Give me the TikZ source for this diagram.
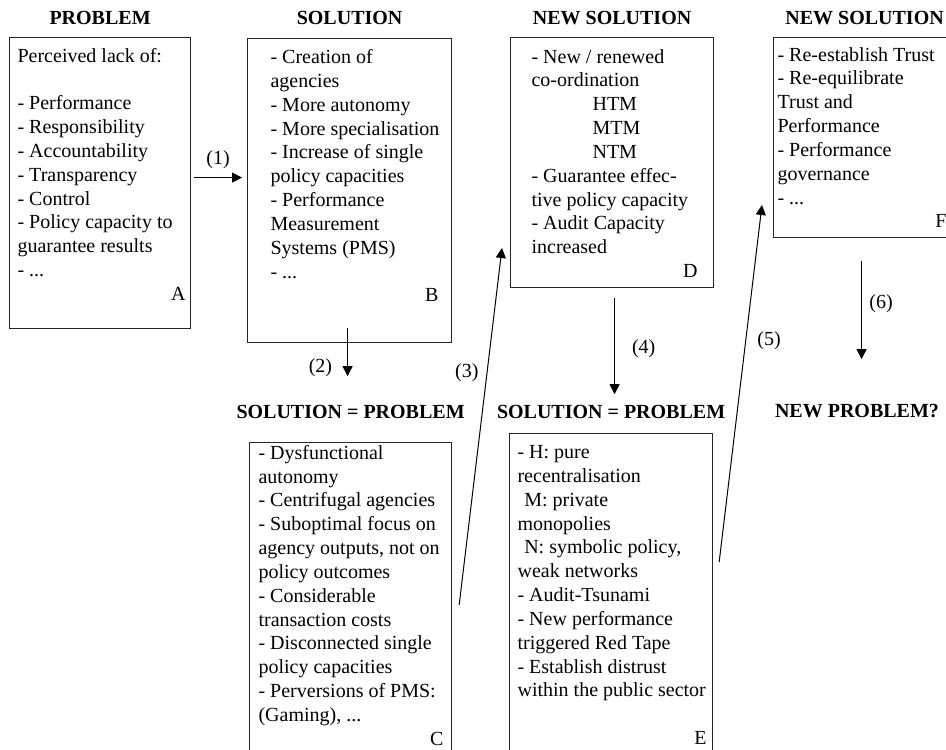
\documentclass[tikz,border=0pt]{standalone}
\usepackage{fontspec}
\setmainfont{Liberation Serif}
\usetikzlibrary{arrows.meta, positioning}
\tikzstyle{box} = [draw=black!85, line width=0.7pt, inner sep=0pt, anchor=north west]
\tikzstyle{head} = [inner sep=0pt, font=\fontsize{12}{14}\selectfont\bfseries]
\tikzstyle{num} = [inner sep=0pt, font=\fontsize{12}{14}\selectfont]
\tikzstyle{arrow} = [line width=0.6pt, -{Triangle[length=6pt, width=6pt]}]
% width, height, left indent, top space, lines
\newcommand{\cell}[5]{\parbox[t][#2][t]{#1}{\fontsize{12}{14.3}\selectfont\leftskip=#3\relax\vspace*{#4}\strut #5}}

\begin{document}
\begin{tikzpicture}[x=0.6pt, y=-0.6pt]
  \useasboundingbox (0,0) rectangle (946,750);
  \clip (0,0) rectangle (946,750);

  % boxes
  \node[box] (probA) at (9,37) {\cell{108.6pt}{174.6pt}{4.8pt}{4.7pt}{Perceived lack of:\\ \mbox{}\\
    - Performance\\ - Responsibility\\ - Accountability\\ - Transparency\\ - Control\\
    - Policy capacity to\\ guarantee results\\ - ...\\ \hspace*{\fill}A\kern3pt}};
  \node[box] (solB) at (247,38) {\cell{122.4pt}{182.4pt}{13.8pt}{5pt}{- Creation of\\ agencies\\
    - More autonomy\\ - More specialisation\\ - Increase of single\\ policy capacities\\
    - Performance\\ Measurement\\ Systems (PMS)\\ - ...\\ \hspace*{\fill}B\kern7.8pt}};
  \node[box] (newD) at (510,37) {\cell{121.8pt}{150pt}{12.6pt}{5.3pt}{- New / renewed\\ co-ordination\\
    \hspace*{36.6pt}HTM\\ \hspace*{36.6pt}MTM\\ \hspace*{36.6pt}NTM\\
    - Guarantee effec-\\ tive policy capacity\\ - Audit Capacity\\ increased\\ \hspace*{\fill}D\kern9.6pt}};
  \node[box] (newF) at (773,37) {\cell{109.2pt}{120pt}{2.4pt}{4.1pt}{- Re-establish Trust\\ - Re-equilibrate\\
    Trust and\\ Performance\\ - Performance\\ governance\\ - ...\\ \hspace*{\fill}F\kern5.4pt}};
  \node[box] (solC) at (249,442) {\cell{121.2pt}{202.8pt}{5.4pt}{0pt}{- Dysfunctional\\ autonomy\\
    - Centrifugal agencies\\ - Suboptimal focus on\\ agency outputs, not on\\ policy outcomes\\
    - Considerable\\ transaction costs\\ - Disconnected single\\ policy capacities\\
    - Perversions of PMS:\\ (Gaming), ...\\ \hspace*{\fill}C\kern4.8pt}};
  \node[box] (probE) at (509,433) {\cell{121.8pt}{208.2pt}{4.8pt}{5pt}{- H: pure\\ recentralisation\\
    \hspace*{4pt}M: private\\ monopolies\\ \hspace*{4pt}N: symbolic policy,\\ weak networks\\
    - Audit-Tsunami\\ - New performance\\ triggered Red Tape\\ - Establish distrust\\
    within the public sector\\ \mbox{}\\ \hspace*{\fill}E\kern3.6pt}};

  % headings
  \node[head, above=7.4pt of probA] (hA) {PROBLEM};
  \node[head, above=8pt of solB] (hB) {SOLUTION};
  \node[head, above=7.4pt of newD] (hD) {NEW SOLUTION};
  \node[head, above=7.4pt of newF] (hF) {NEW SOLUTION};
  \node[head, above=14pt of solC] (hC) {SOLUTION = PROBLEM};
  \node[head, above=8.6pt of probE] (hE) {SOLUTION = PROBLEM};
  \node[head] (hG) at (857,411) {NEW PROBLEM?};

  % arrows
  \draw[arrow] ([shift={(1.8pt,3.3pt)}]probA.east) -- node[num, above=4.8pt]{(1)} ([shift={(-3pt,7.8pt)}]solB.west);
  \draw[arrow] ([shift={(-1.2pt,9pt)}]solB.south) -- node[num, pos=0.83, left=9pt]{(2)} ([shift={(-1.2pt,-19.8pt)}]solB.south);
  \draw[arrow] ([shift={(4.2pt,-97.8pt)}]solC.north east) -- node[num, pos=0.65, left=4.8pt]{(3)} ([shift={(-4.8pt,-126.6pt)}]newD.north west);
  \draw[arrow] ([shift={(1.5pt,-6pt)}]newD.south) -- node[num, pos=0.53, right=10.2pt]{(4)} ([shift={(1.5pt,-63.6pt)}]newD.south);
  \draw[arrow] ([shift={(3.6pt,-77.4pt)}]probE.north east) -- node[num, pos=0.62, right=6.7pt]{(5)} ([shift={(-6.6pt,-100.8pt)}]newF.north west);
  \draw[arrow] ([shift={(-1.8pt,-13.8pt)}]newF.south) -- node[num, pos=0.43, right=4.4pt]{(6)} ([shift={(-1.8pt,-72.6pt)}]newF.south);
\end{tikzpicture}
\end{document}
